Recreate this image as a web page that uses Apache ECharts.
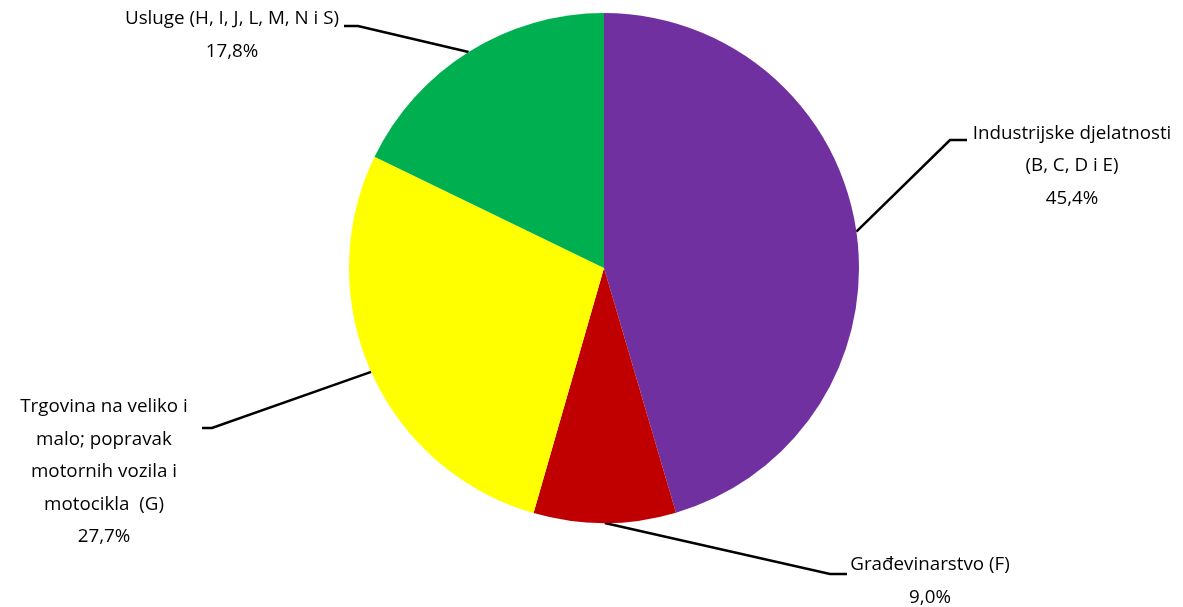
<!DOCTYPE html>
<html>
<head>
<meta charset="utf-8">
<script src="https://cdn.jsdelivr.net/npm/echarts@6/dist/echarts.min.js"></script>
<style>
html,body{margin:0;padding:0;background:#fff;}
#chart{width:1183px;height:607px;}
</style>
</head>
<body>
<div id="chart"></div>
<script>
const categories = [
  'Industrijske djelatnosti\n(B, C, D i E)',
  'Građevinarstvo (F)',
  'Trgovina na veliko i\nmalo; popravak\nmotornih vozila i\nmotocikla  (G)',
  'Usluge (H, I, J, L, M, N i S)'
];
const values = [45.4, 9.0, 27.7, 17.8];
const colors = ['#7030A0', '#C00000', '#FFFF00', '#00B050'];

// label text anchors and leader-line bends (layout, not data)
const labelPos = [
  {x: 1072, y: 166, bend: [[950, 140], [967, 140]]},
  {x: 930, y: 581, bend: [[830, 574], [847, 574]]},
  {x: 104, y: 472, bend: [[212, 428], [202, 428]]},
  {x: 232, y: 35, bend: [[358, 26], [344, 26]]}
];

const chart = echarts.init(document.getElementById('chart'), null, {renderer: 'canvas'});
chart.setOption({
  animation: false,
  backgroundColor: '#ffffff',
  series: [{
    type: 'pie',
    center: [604, 268],
    radius: 255,
    startAngle: 90,
    clockwise: true,
    data: categories.map((c, i) => ({name: c, value: values[i], itemStyle: {color: colors[i]}})),
    label: {
      show: true,
      color: '#000',
      fontFamily: 'Open Sans',
      fontSize: 18.8,
      lineHeight: 32.5,
      align: 'center',
      formatter: p => p.name + '\n' + p.value.toFixed(1).replace('.', ',') + '%'
    },
    labelLine: {show: true, lineStyle: {color: '#000', width: 2.5}},
    labelLayout: function (params) {
      const lp = labelPos[params.dataIndex];
      const start = params.labelLinePoints ? params.labelLinePoints[0] : null;
      const res = {x: lp.x, y: lp.y, align: 'center', verticalAlign: 'middle'};
      if (start) res.labelLinePoints = [start, lp.bend[0], lp.bend[1]];
      return res;
    }
  }]
});
</script>
</body>
</html>
